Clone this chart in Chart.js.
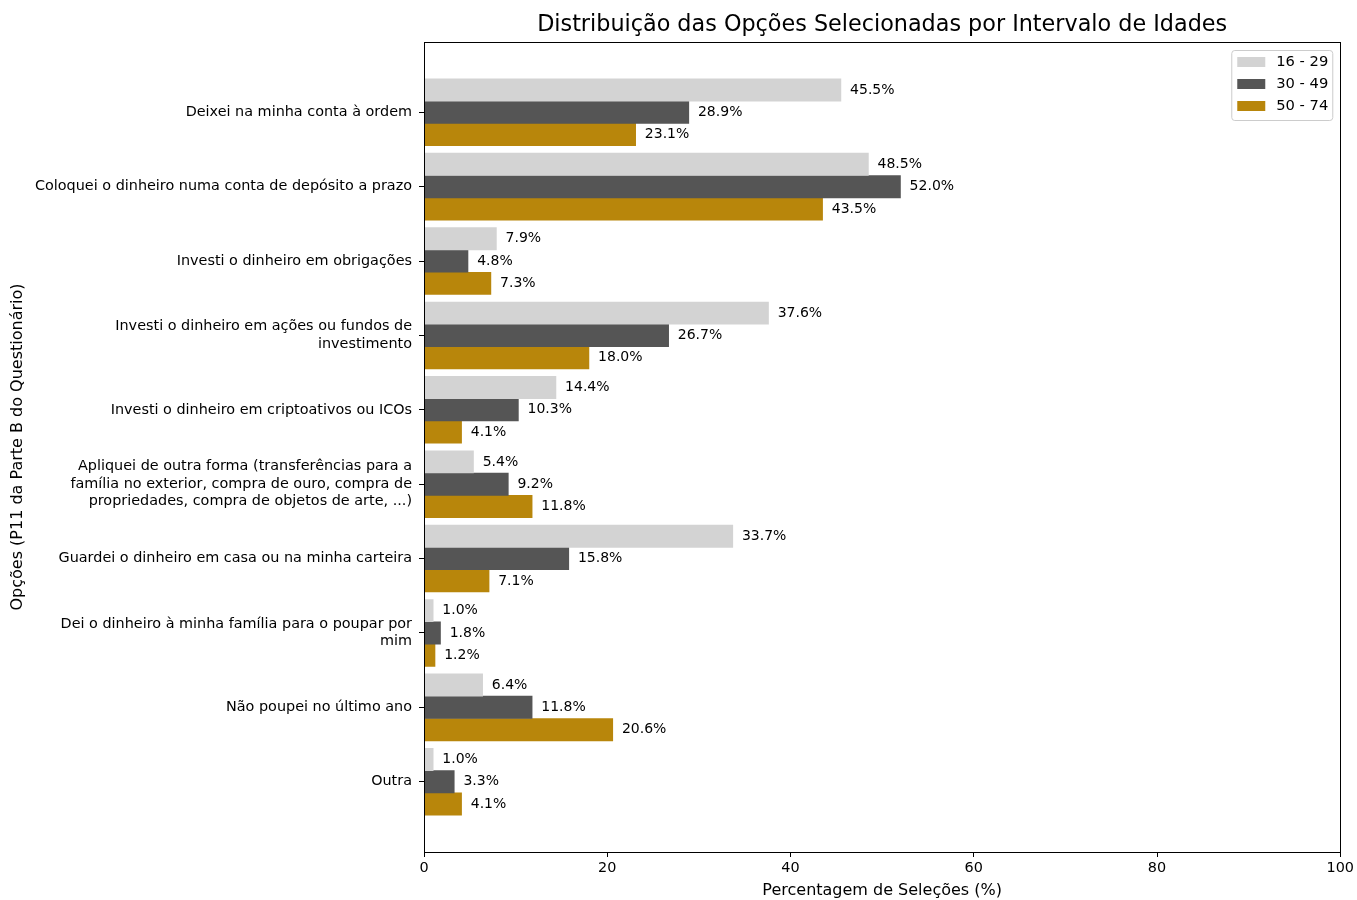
<!DOCTYPE html>
<html>
<head>
<meta charset="utf-8">
<script src="https://cdn.jsdelivr.net/npm/chart.js@4/dist/chart.umd.min.js"></script>
<style>
  html, body { margin: 0; padding: 0; background: #fff; }
  #wrap { width: 1357px; height: 900px; }
</style>
</head>
<body>
<div id="wrap"><canvas id="c" width="1357" height="900"></canvas></div>
<script>
const categories = [
  "Deixei na minha conta à ordem",
  "Coloquei o dinheiro numa conta de depósito a prazo",
  "Investi o dinheiro em obrigações",
  ["Investi o dinheiro em ações ou fundos de", "investimento"],
  "Investi o dinheiro em criptoativos ou ICOs",
  ["Apliquei de outra forma (transferências para a", "família no exterior, compra de ouro, compra de", "propriedades, compra de objetos de arte, ...)"],
  "Guardei o dinheiro em casa ou na minha carteira",
  ["Dei o dinheiro à minha família para o poupar por", "mim"],
  "Não poupei no último ano",
  "Outra"
];
const ageGroups = ["16 - 29", "30 - 49", "50 - 74"];
const age16to29 = [45.5, 48.5, 7.9, 37.6, 14.4, 5.4, 33.7, 1.0, 6.4, 1.0];
const age30to49 = [28.9, 52.0, 4.8, 26.7, 10.3, 9.2, 15.8, 1.8, 11.8, 3.3];
const age50to74 = [23.1, 43.5, 7.3, 18.0, 4.1, 11.8, 7.1, 1.2, 20.6, 4.1];
const xTicks = [0, 20, 40, 60, 80, 100];

const colors = ["#d3d3d3", "#555555", "#b8860b"];
const offsets = [-0.3, 0, 0.3];
const FONT = "'DejaVu Sans', sans-serif";

const series = [age16to29, age30to49, age50to74];
const datasets = series.map((vals, k) => ({
  label: ageGroups[k],
  data: vals.map((v, i) => ({ x: v, y: i + offsets[k] })),
  backgroundColor: colors[k],
  borderWidth: 0,
  grouped: false,
  barPercentage: 1,
  categoryPercentage: 1
}));

const extras = {
  id: "extras",
  afterDatasetsDraw(chart) {
    const ctx = chart.ctx;
    const xs = chart.scales.x, ys = chart.scales.y;
    ctx.save();
    ctx.font = "14px " + FONT;
    ctx.fillStyle = "#000";
    ctx.textAlign = "left";
    ctx.textBaseline = "middle";
    chart.data.datasets.forEach((ds) => {
      ds.data.forEach((p) => {
        ctx.fillText(p.x.toFixed(1) + "%", xs.getPixelForValue(p.x + 1), ys.getPixelForValue(p.y));
      });
    });
    ctx.restore();
  },
  afterDraw(chart) {
    const ctx = chart.ctx;
    const a = chart.chartArea;
    ctx.save();
    // frame
    ctx.strokeStyle = "#000";
    ctx.lineWidth = 1;
    ctx.strokeRect(Math.round(a.left) + 0.5, Math.round(a.top) + 0.5, Math.round(a.right - a.left), Math.round(a.bottom - a.top));
    // title
    ctx.fillStyle = "#000";
    ctx.font = "22.3px " + FONT;
    ctx.textAlign = "center";
    ctx.textBaseline = "middle";
    ctx.fillText("Distribuição das Opções Selecionadas por Intervalo de Idades", (a.left + a.right) / 2, 25);
    // legend
    const bx = a.right - 109, by = a.top + 8, bw = 101, bh = 70;
    ctx.fillStyle = "rgba(255,255,255,0.8)";
    ctx.strokeStyle = "#cccccc";
    ctx.beginPath();
    ctx.roundRect(bx + 0.5, by + 0.5, bw, bh, 3);
    ctx.fill();
    ctx.stroke();
    ctx.font = "14.7px " + FONT;
    ctx.textAlign = "left";
    chart.data.datasets.forEach((ds, k) => {
      const cy = by + 12 + k * 22;
      ctx.fillStyle = ds.backgroundColor;
      ctx.fillRect(bx + 6, cy - 5, 28, 10);
      ctx.fillStyle = "#000";
      ctx.fillText(ds.label, bx + 45, cy);
    });
    ctx.restore();
  }
};

new Chart(document.getElementById("c"), {
  type: "bar",
  data: { datasets },
  plugins: [extras],
  options: {
    indexAxis: "y",
    responsive: false,
    animation: false,
    layout: { padding: { top: 42, right: 16, bottom: 0, left: 0 } },
    plugins: { legend: { display: false }, tooltip: { enabled: false } },
    scales: {
      x: {
        type: "linear",
        min: 0,
        max: 100,
        afterBuildTicks: (s) => { s.ticks = xTicks.map((v) => ({ value: v })); },
        afterFit: (s) => { s.height = 48; },
        grid: { display: true, drawOnChartArea: false, tickLength: 5, color: "#000" },
        border: { display: true, color: "#000" },
        ticks: { color: "#000", padding: 3, font: { family: FONT, size: 14.4 } },
        title: { display: true, text: "Percentagem de Seleções (%)", color: "#000", font: { family: FONT, size: 16 }, padding: { top: 0.5, bottom: 0 } }
      },
      y: {
        type: "linear",
        reverse: true,
        offset: false,
        min: -0.945,
        max: 9.945,
        afterBuildTicks: (s) => { s.ticks = categories.map((c, i) => ({ value: i })); },
        afterFit: (s) => { s.width = 424; },
        grid: { display: true, offset: false, drawOnChartArea: false, tickLength: 5, color: "#000" },
        border: { display: true, color: "#000" },
        ticks: {
          autoSkip: false,
          color: "#000",
          padding: 7,
          font: { family: FONT, size: 14.4, lineHeight: 1.215 },
          callback: (v) => categories[v]
        },
        title: { display: true, text: "Opções (P11 da Parte B do Questionário)", color: "#000", font: { family: FONT, size: 16 }, padding: { top: 8.5, bottom: 0 } }
      }
    }
  }
});
</script>
</body>
</html>
